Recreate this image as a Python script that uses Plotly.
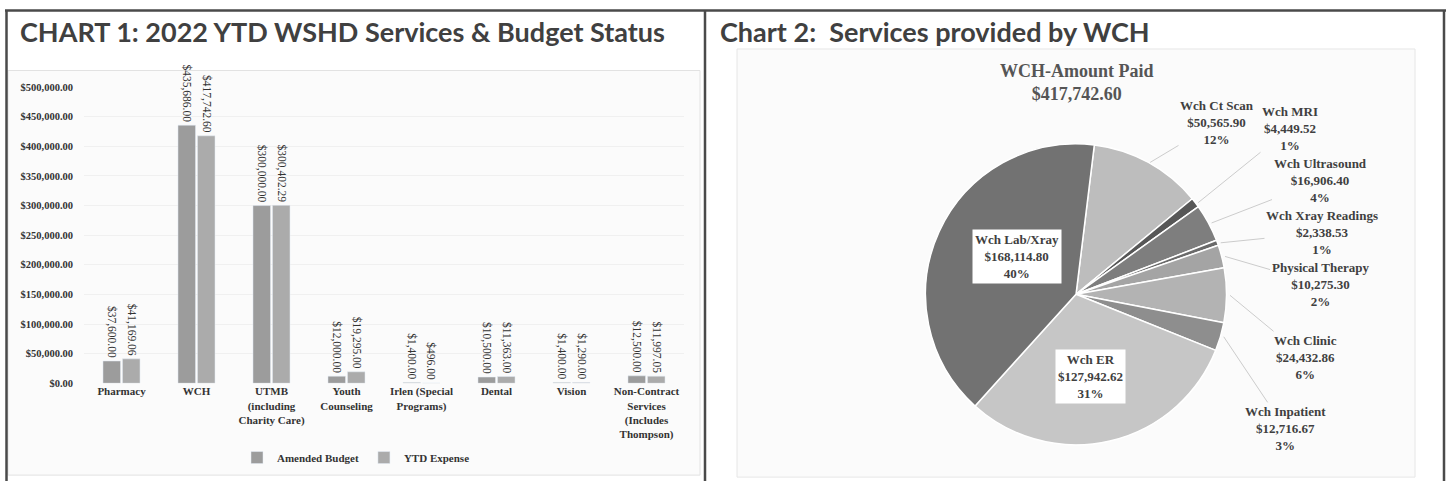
import plotly.graph_objects as go
import math

W, H = 1447, 487

# ---------------- data ----------------
categories = ["Pharmacy", "WCH", "UTMB<br>(including<br>Charity Care)", "Youth<br>Counseling",
              "Irlen (Special<br>Programs)", "Dental", "Vision",
              "Non-Contract<br>Services<br>(Includes<br>Thompson)"]
amended_budget = [37600.00, 435686.00, 300000.00, 12000.00, 1400.00, 10500.00, 1400.00, 12500.00]
ytd_expense = [41169.06, 417742.60, 300402.29, 19295.00, 496.00, 11363.00, 1290.00, 11997.05]
y_ticks = [0, 50000, 100000, 150000, 200000, 250000, 300000, 350000, 400000, 450000, 500000]

pie_labels = ["Wch Ct Scan", "Wch MRI", "Wch Ultrasound", "Wch Xray Readings", "Physical Therapy",
              "Wch Clinic", "Wch Inpatient", "Wch ER", "Wch Lab/Xray"]
pie_values = [50565.90, 4449.52, 16906.40, 2338.53, 10275.30, 24432.86, 12716.67, 127942.62, 168114.80]
pie_colors = ["#bdbdbd", "#575757", "#7e7e7e", "#6a6a6a", "#a4a4a4", "#b3b3b3", "#8e8e8e", "#c6c6c6", "#727272"]
pie_title = "WCH-Amount Paid"

# ---------------- helpers ----------------
def px(x):
    return x / W


def py(y):
    return 1 - y / H


serif = "Liberation Serif, Times New Roman, serif"
title_font = "Lato, Open Sans, sans-serif"

fig = go.Figure()

fig.add_trace(go.Bar(
    x=categories, y=amended_budget, name="Amended Budget",
    marker=dict(color="#9c9c9c"),
    texttemplate="$%{y:,.2f}", textposition="outside", textangle=90,
    constraintext="none", cliponaxis=False,
    textfont=dict(family=serif, size=11.5, color="#333333"),
))
fig.add_trace(go.Bar(
    x=categories, y=ytd_expense, name="YTD Expense",
    marker=dict(color="#ababab"),
    texttemplate="$%{y:,.2f}", textposition="outside", textangle=90,
    constraintext="none", cliponaxis=False,
    textfont=dict(family=serif, size=11.5, color="#333333"),
))

# pie geometry
cx, cy, R = 1076, 296, 154
rot = 7
fig.add_trace(go.Pie(
    labels=pie_labels, values=pie_values, sort=False, direction="clockwise",
    rotation=rot, textinfo="none", showlegend=False, hoverinfo="label+value+percent",
    marker=dict(colors=pie_colors, line=dict(color="white", width=1.5)),
    domain=dict(x=[px(cx - R), px(cx + R)], y=[py(cy + R), py(cy - R)]),
))

fig.update_layout(
    width=W, height=H, margin=dict(l=0, r=0, t=0, b=0),
    paper_bgcolor="white", plot_bgcolor="rgba(0,0,0,0)",
    barmode="group", bargap=0.48, bargroupgap=0.1,
    xaxis=dict(domain=[px(84), px(684)], showgrid=False, showline=False, ticks="",
               tickfont=dict(family=serif, size=11, color="#333333", weight="bold")),
    yaxis=dict(domain=[py(387), py(84)], range=[0, 500000], tickvals=y_ticks,
               ticktext=[f"${v:,.2f}" for v in y_ticks], showline=False, ticks="",
               gridcolor="#f0f0f0", gridwidth=1, zeroline=False, ticklabelstandoff=10,
               tickfont=dict(family=serif, size=10.5, color="#333333", weight="bold")),
    legend=dict(orientation="h", x=px(356), xanchor="center", y=py(463), yanchor="middle",
                font=dict(family=serif, size=11, color="#333333", weight="bold"),
                bgcolor="rgba(0,0,0,0)", itemwidth=30),
    showlegend=True,
)

shapes = []
# chart area backgrounds
shapes.append(dict(type="rect", xref="paper", yref="paper", x0=px(8), x1=px(700), y0=py(481), y1=py(67),
                   fillcolor="#fbfbfb", line=dict(color="#e2e2e2", width=1), layer="below"))
shapes.append(dict(type="rect", xref="paper", yref="paper", x0=px(737), x1=px(1415), y0=py(483), y1=py(45),
                   fillcolor="#fbfbfb", line=dict(color="#e6e6e6", width=1), layer="below"))
# table borders
bc = "#4a4a4a"
shapes.append(dict(type="line", xref="paper", yref="paper", x0=px(5), x1=px(1446), y0=py(5.5), y1=py(5.5),
                   line=dict(color=bc, width=2.5)))
for xv in [6.5, 705, 1444]:
    shapes.append(dict(type="line", xref="paper", yref="paper", x0=px(xv), x1=px(xv), y0=py(487), y1=py(5),
                       line=dict(color=bc, width=2.5)))
fig.update_layout(shapes=shapes)

ann = []
ann.append(dict(text="<b>CHART 1: 2022 YTD WSHD Services &amp; Budget Status</b>", x=px(18), y=py(27),
                xref="paper", yref="paper", xanchor="left", yanchor="middle", showarrow=False,
                font=dict(family=title_font, size=27, color="#404040")))
ann.append(dict(text="<b>Chart 2:  Services provided by WCH</b>", x=px(718), y=py(27),
                xref="paper", yref="paper", xanchor="left", yanchor="middle", showarrow=False,
                font=dict(family=title_font, size=27, color="#404040")))
total = sum(pie_values)
ann.append(dict(text=f"<b>{pie_title}<br>${total:,.2f}</b>", x=px(1077), y=py(79),
                xref="paper", yref="paper", xanchor="center", yanchor="middle", showarrow=False,
                font=dict(family=serif, size=18, color="#555555")))

# slice labels
text_pos = {
    "Wch Ct Scan": (1217, 121), "Wch MRI": (1290, 128), "Wch Ultrasound": (1320, 181),
    "Wch Xray Readings": (1322, 233), "Physical Therapy": (1320, 285), "Wch Clinic": (1305, 359),
    "Wch Inpatient": (1285, 431), "Wch ER": (1090, 380), "Wch Lab/Xray": (1017, 257),
}
inside = {"Wch ER", "Wch Lab/Xray"}
cum = 0.0
for lab, val in zip(pie_labels, pie_values):
    mid = cum + val / 2
    cum += val
    theta = math.radians(rot + 360 * mid / total)
    tx, ty = cx + R * math.sin(theta), cy - R * math.cos(theta)
    lx, ly = text_pos[lab]
    txt = f"<b>{lab}<br>${val:,.2f}<br>{round(100 * val / total)}%</b>"
    f = dict(family=serif, size=13, color="#404040")
    if lab in inside:
        ann.append(dict(text=txt, x=px(lx), y=py(ly), xref="paper", yref="paper", showarrow=False,
                        xanchor="center", yanchor="middle", bgcolor="white", borderpad=2, font=f))
    else:
        ann.append(dict(text=txt, x=px(tx), y=py(ty), xref="paper", yref="paper", showarrow=True,
                        ax=lx - tx, ay=ly - ty, arrowhead=0, arrowwidth=1, arrowcolor="#cccccc",
                        standoff=0, startstandoff=0, xanchor="center", yanchor="middle", font=f))
fig.update_layout(annotations=ann)

fig.write_html("out.html")
